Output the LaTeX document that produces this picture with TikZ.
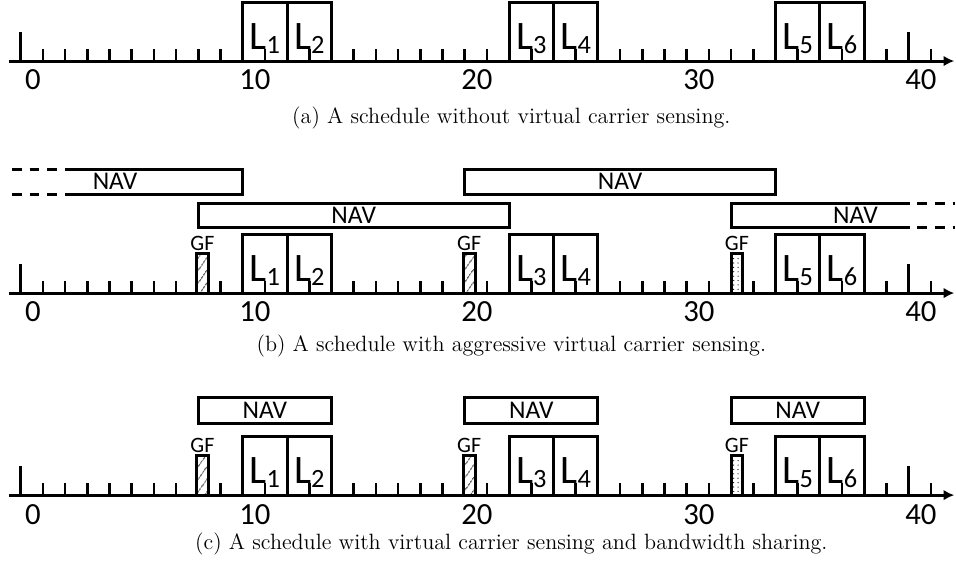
\documentclass[tikz,border=0pt]{standalone}
\usepackage{fontspec}
\newfontfamily\carl{Carlito}
\usetikzlibrary{patterns.meta,arrows.meta}

% time axis with unit ticks and labels every 10 slots
\newcommand\timeaxis[2]{% #1 = row of the axis, #2 = panel tag
  \foreach \t in {1,...,41} \draw[tickmark] (\t,#1) -- (\t,#1-12);
  \draw[tickmark] (0,#1) -- (0,#1-29);
  \draw[tickmark] (40,#1) -- (40,#1-29);
  \draw[axisline] (-0.53,#1) -- (42.05,#1);
  \foreach \n in {0,10,20,30,40}
    \node[num] (#2n\n) at (\n+0.55,#1+19) {\n};
}
% a two-slot data frame L_k starting at slot #1
\newcommand\frameslot[4]{% #1 start, #2 axis row, #3 index, #4 node name
  \draw[slot] (#1,#2) rectangle (#1+2,#2-59);
  \node[lbl] (#4) at (#1+1,#2-12) {L\raisebox{-2.5pt}{\fontsize{15}{15}\selectfont #3}};
}
% guard frame GF
\newcommand\guardframe[5]{% #1 left, #2 right, #3 axis row, #4 fill style, #5 name
  \draw[slot,fill=white] (#1,#3) rectangle (#2,#3-40);
  \fill[#4] (#1,#3) rectangle (#2,#3-40);
  \draw[slot] (#1,#3) rectangle (#2,#3-40);
  \node[gflabel] (#5) at ({(#1+#2)/2},#3-43) {GF};
}

\begin{document}
\begin{tikzpicture}[x=0.444cm,y=-0.02cm,
  tickmark/.style={line width=1.5pt},
  axisline/.style={line width=1.7pt,-{Latex[length=6pt,width=6pt]}},
  slot/.style={draw,line width=1.7pt},
  navbox/.style={draw,line width=1.7pt},
  navdash/.style={line width=1.7pt,dash pattern=on 5.5pt off 4.5pt},
  num/.style={font=\carl\fontsize{17.5}{17.5}\selectfont},
  nav/.style={font=\carl\fontsize{14.5}{14.5}\selectfont},
  gflabel/.style={font=\carl\fontsize{12.5}{12.5}\selectfont,anchor=base},
  lbl/.style={font=\carl\fontsize{23}{23}\selectfont,anchor=base},
  captext/.style={font=\fontsize{12.6}{15}\selectfont},
  hatchfill/.style={pattern={Lines[angle=55,distance=4pt,line width=0.5pt]}},
  dotfill/.style={pattern={Dots[distance=2.5pt,radius=0.35pt]}},
]
\useasboundingbox (-0.932,0) rectangle (42.13,566);

% ---------------- (a) ----------------
\timeaxis{61}{a}
\frameslot{10}{61}{1}{aL1}
\frameslot{12}{61}{2}{aL2}
\frameslot{22}{61}{3}{aL3}
\frameslot{24}{61}{4}{aL4}
\frameslot{34}{61}{5}{aL5}
\frameslot{36}{61}{6}{aL6}
\node[captext] (capa) at (22.1,118) {(a) A schedule without virtual carrier sensing.};

% ---------------- (b) ----------------
\timeaxis{293}{b}
\frameslot{10}{293}{1}{bL1}
\frameslot{12}{293}{2}{bL2}
\frameslot{22}{293}{3}{bL3}
\frameslot{24}{293}{4}{bL4}
\frameslot{34}{293}{5}{bL5}
\frameslot{36}{293}{6}{bL6}
\guardframe{7.92}{8.45}{293}{hatchfill}{bGF1}
\guardframe{19.93}{20.47}{293}{hatchfill}{bGF2}
\guardframe{32.0}{32.52}{293}{dotfill}{bGF3}
% NAV periods, upper row
\draw[navbox] (2.22,169) -- (10,169) -- (10,194) -- (2.22,194);
\draw[navdash] (-0.39,169) -- (2.22,169);
\draw[navdash] (-0.39,194) -- (2.22,194);
\node[nav] (bnav1) at (4.25,181.5) {NAV};
\draw[navbox] (20,169) rectangle (34,194);
\node[nav] (bnav2) at (27,181.5) {NAV};
% NAV periods, lower row
\draw[navbox] (8,203) rectangle (22,227);
\node[nav] (bnav3) at (15,215) {NAV};
\draw[navbox] (39.6,203) -- (32,203) -- (32,227) -- (39.6,227);
\draw[navdash] (39.6,203) -- (42.1,203);
\draw[navdash] (39.6,227) -- (42.1,227);
\node[nav] (bnav4) at (37.6,215) {NAV};
\node[captext] (capb) at (22.1,346) {(b) A schedule with aggressive virtual carrier sensing.};

% ---------------- (c) ----------------
\timeaxis{495}{c}
\frameslot{10}{495}{1}{cL1}
\frameslot{12}{495}{2}{cL2}
\frameslot{22}{495}{3}{cL3}
\frameslot{24}{495}{4}{cL4}
\frameslot{34}{495}{5}{cL5}
\frameslot{36}{495}{6}{cL6}
\guardframe{7.92}{8.45}{495}{hatchfill}{cGF1}
\guardframe{19.93}{20.47}{495}{hatchfill}{cGF2}
\guardframe{32.0}{32.52}{495}{dotfill}{cGF3}
\draw[navbox] (8,397) rectangle (14,423);
\node[nav] (cnav1) at (11,410) {NAV};
\draw[navbox] (20,397) rectangle (26,423);
\node[nav] (cnav2) at (23,410) {NAV};
\draw[navbox] (32,397) rectangle (38,423);
\node[nav] (cnav3) at (35,410) {NAV};
\node[captext] (capc) at (22.1,544) {(c) A schedule with virtual carrier sensing and bandwidth sharing.};
\end{tikzpicture}
\end{document}
